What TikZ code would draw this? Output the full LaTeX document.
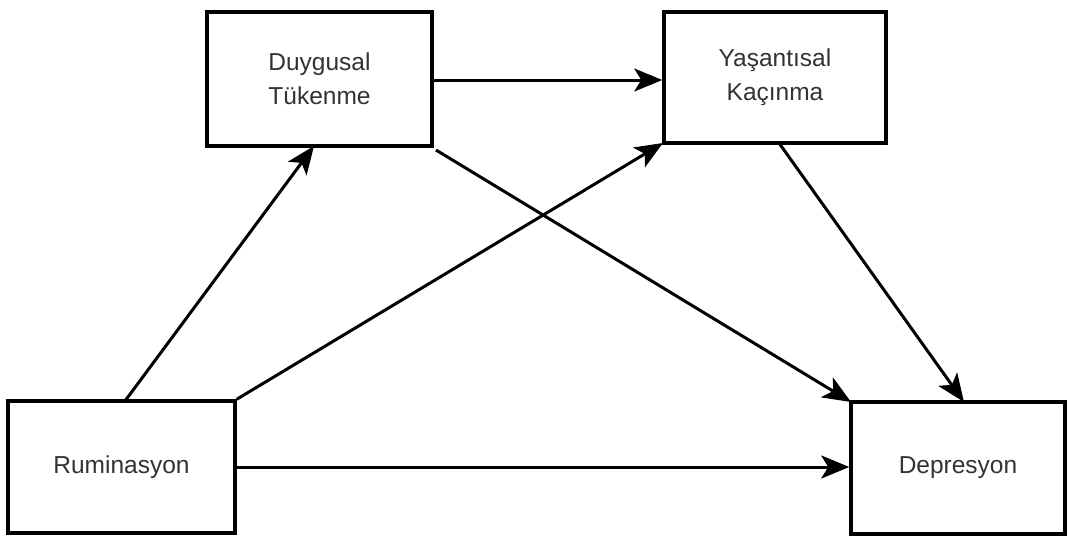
\documentclass[tikz,border=0pt]{standalone}
\usepackage{fontspec}
\setmainfont{Liberation Sans}
\usetikzlibrary{arrows.meta}
\begin{document}
\begin{tikzpicture}[x=1pt,y=-1pt,
  boxstyle/.style={draw=black,line width=3.5pt,fill=white,inner sep=0pt,align=center,font=\fontsize{24.5}{34}\selectfont,text=black!80},
  arr/.style={line width=3pt,-{Stealth[length=28pt,width=23pt,inset=7pt]}}]
\useasboundingbox (0,0) rectangle (1068,536);
\node[boxstyle,minimum width=225pt,minimum height=134pt] (duy) at (319.5,79) {Duygusal\\Tükenme};
\node[boxstyle,minimum width=222pt,minimum height=131pt] (yas) at (775,77.5) {Yaşantısal\\Kaçınma};
\node[boxstyle,minimum width=227pt,minimum height=132pt] (rum) at (121.5,467) {Ruminasyon};
\node[boxstyle,minimum width=214pt,minimum height=132pt] (dep) at (958,468) {Depresyon};
\coordinate (a1) at (125,401);
\coordinate (a2) at (314,146);
\coordinate (b2) at (663,143);
\coordinate (c1) at (436,150);
\coordinate (c2) at (851,402);
\coordinate (d1) at (779,143);
\coordinate (d2) at (964,402);
\draw[arr] (a1) -- (a2);
\draw[arr] (rum.north east) -- (b2);
\draw[arr] (c1) -- (c2);
\draw[arr] (d1) -- (d2);
\draw[arr] (duy.east |- 0,80) -- (yas.west |- 0,80);
\draw[arr] (rum.east |- 0,467) -- (dep.west |- 0,467);
\end{tikzpicture}
\end{document}
